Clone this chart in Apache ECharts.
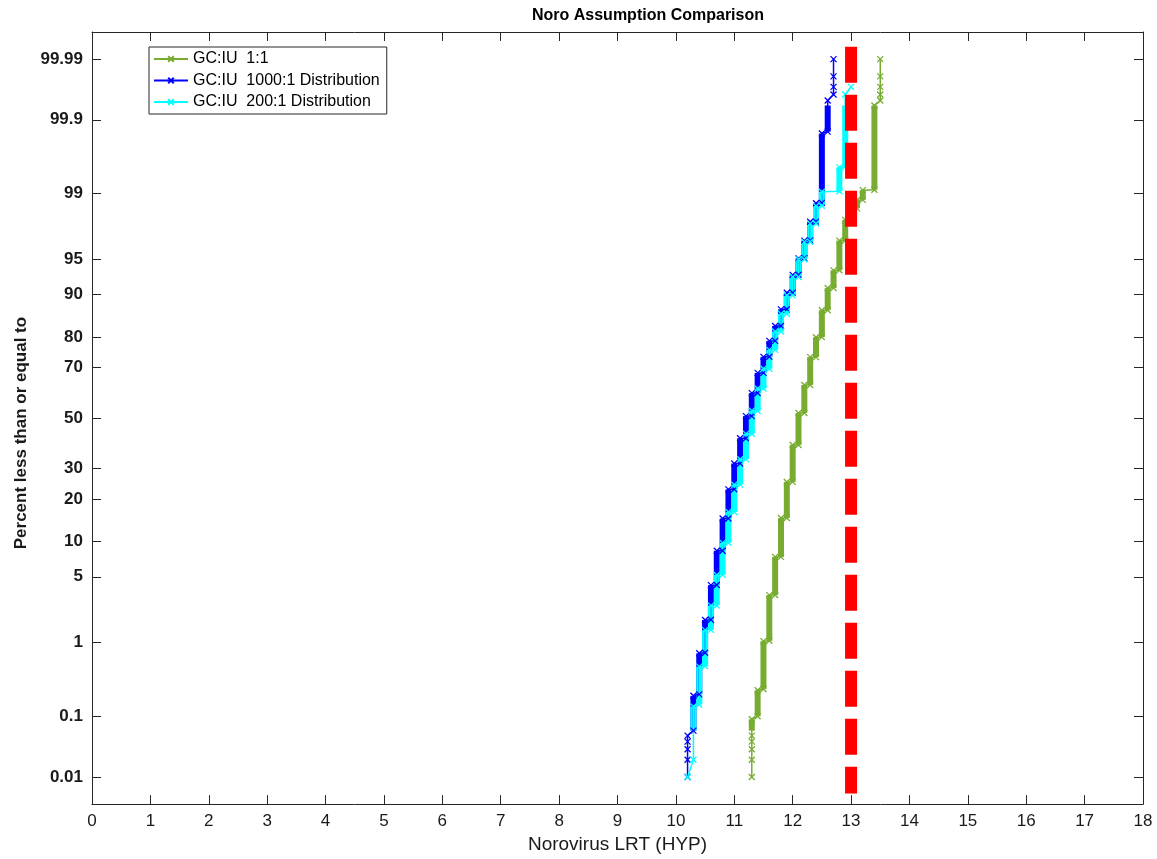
<!DOCTYPE html>
<html>
<head>
<meta charset="utf-8">
<title>Noro Assumption Comparison</title>
<script src="https://cdn.jsdelivr.net/npm/echarts@6/dist/echarts.min.js"></script>
<style>
  html, body { margin: 0; padding: 0; background: #ffffff; }
  #chart { width: 1157px; height: 859px; }
</style>
</head>
<body>
<div id="chart"></div>
<script>
// ---- data -------------------------------------------------------------
const xTickValues = [0, 1, 2, 3, 4, 5, 6, 7, 8, 9, 10, 11, 12, 13, 14, 15, 16, 17, 18];
const pctTicks = [0.01, 0.1, 1, 5, 10, 20, 30, 50, 70, 80, 90, 95, 99, 99.9, 99.99];
const pctTickLabels = ['0.01', '0.1', '1', '5', '10', '20', '30', '50', '70', '80', '90', '95', '99', '99.9', '99.99'];

const seriesNames = ['GC:IU  1:1', 'GC:IU  1000:1 Distribution', 'GC:IU  200:1 Distribution'];

// percent of the sample carried by one simulated value
const PCT_PER_SAMPLE = 0.01;

// GC:IU 1:1 — LRT level of each step and cumulative percent at its top
const greenLevels = [11.3, 11.4, 11.5, 11.6, 11.7, 11.8, 11.9, 12.0, 12.1, 12.2, 12.3, 12.4, 12.5, 12.6, 12.7, 12.8, 12.9, 13.0, 13.1, 13.2, 13.4, 13.5];
const greenTopPct = [0.09, 0.24, 1.04, 3.33, 7.5, 15.0, 25.4, 39.0, 52.1, 63.4, 73.6, 79.9, 86.8, 91.1, 93.7, 96.7, 98.0, 98.5, 98.8, 99.09, 99.94, 99.99];
const greenMarks = [[11.3, 0.02], [11.3, 0.03], [11.3, 0.04], [11.3, 0.05], [13.5, 99.96], [13.5, 99.97], [13.5, 99.98]];

// GC:IU 1000:1 distribution
const blueLevels = [10.2, 10.3, 10.4, 10.5, 10.6, 10.7, 10.8, 10.9, 11.0, 11.1, 11.2, 11.3, 11.4, 11.5, 11.6, 11.7, 11.8, 11.9, 12.0, 12.1, 12.2, 12.3, 12.4, 12.5, 12.6, 12.7];
const blueTopPct = [0.05, 0.2, 0.74, 1.82, 4.17, 8.46, 14.9, 23.0, 31.9, 41.7, 50.8, 60.2, 68.0, 73.7, 78.8, 83.0, 87.0, 90.3, 93.1, 95.1, 96.7, 97.9, 98.7, 99.84, 99.95, 99.99];
const blueMarks = [[10.2, 0.02], [10.2, 0.03], [10.2, 0.04], [12.7, 99.97], [12.7, 99.98]];

// GC:IU 200:1 distribution
const cyanLevels = [10.2, 10.3, 10.4, 10.5, 10.6, 10.7, 10.8, 10.9, 11.0, 11.1, 11.2, 11.3, 11.4, 11.5, 11.6, 11.7, 11.8, 11.9, 12.0, 12.1, 12.2, 12.3, 12.4, 12.5, 12.8, 12.9, 13.0];
const cyanTopPct = [0.01, 0.14, 0.50, 1.4, 2.6, 5.2, 9.8, 16.5, 24.5, 33.5, 43.5, 53.0, 62.0, 69.5, 76.0, 81.5, 86.0, 89.8, 92.8, 95.0, 96.6, 97.8, 98.6, 99.05, 99.53, 99.96, 99.97];
const cyanMarks = [];

// LRT limit line
const limitLRT = 13;
const limitPct = [99.994, 0.005];

const colors = ['#77AC30', '#0000FF', '#00FFFF'];

// ---- normal probability scale ---------------------------------------
// inverse standard normal CDF (Acklam), p given in percent
function probit(pct) {
  const p = pct / 100;
  const a = [-3.969683028665376e+01, 2.209460984245205e+02, -2.759285104469687e+02, 1.383577518672690e+02, -3.066479806614716e+01, 2.506628277459239e+00];
  const b = [-5.447609879822406e+01, 1.615858368580409e+02, -1.556989798598866e+02, 6.680131188771972e+01, -1.328068155288572e+01];
  const c = [-7.784894002430293e-03, -3.223964580411365e-01, -2.400758277161838e+00, -2.549732539343734e+00, 4.374664141464968e+00, 2.938163982698783e+00];
  const d = [7.784695709041462e-03, 3.224671290700398e-01, 2.445134137142996e+00, 3.754408661907416e+00];
  const pl = 0.02425, ph = 1 - pl;
  let q, r;
  if (p < pl) {
    q = Math.sqrt(-2 * Math.log(p));
    return (((((c[0] * q + c[1]) * q + c[2]) * q + c[3]) * q + c[4]) * q + c[5]) /
           ((((d[0] * q + d[1]) * q + d[2]) * q + d[3]) * q + 1);
  }
  if (p <= ph) {
    q = p - 0.5; r = q * q;
    return (((((a[0] * r + a[1]) * r + a[2]) * r + a[3]) * r + a[4]) * r + a[5]) * q /
           (((((b[0] * r + b[1]) * r + b[2]) * r + b[3]) * r + b[4]) * r + 1);
  }
  q = Math.sqrt(-2 * Math.log(1 - p));
  return -(((((c[0] * q + c[1]) * q + c[2]) * q + c[3]) * q + c[4]) * q + c[5]) /
          ((((d[0] * q + d[1]) * q + d[2]) * q + d[3]) * q + 1);
}

const tickZ = pctTicks.map(probit);

// empirical CDF steps: bottom of a step is the sample after the previous top
function stepRanges(levels, tops) {
  return levels.map((lv, i) => {
    const low = i === 0 ? PCT_PER_SAMPLE : tops[i - 1] + PCT_PER_SAMPLE;
    return [lv, Math.min(low, tops[i]), tops[i]];
  });
}
function polyline(ranges) {
  const pts = [];
  ranges.forEach(([lv, lo, hi]) => {
    pts.push([lv, probit(lo)]);
    if (hi > lo) pts.push([lv, probit(hi)]);
  });
  return pts;
}
// dense runs of markers render as a solid band; sparse tails stay as single marks
const BAND_MIN_PCT = 0.06, BAND_MAX_PCT = 99.94;
function bands(ranges) {
  const out = [];
  ranges.forEach(([lv, lo, hi]) => {
    const a = Math.max(lo, BAND_MIN_PCT), b = Math.min(hi, BAND_MAX_PCT);
    if (b > a) out.push([lv, probit(a), probit(b)]);
  });
  return out;
}

const X_MARK = 'path://M0,0L10,10M10,0L0,10';
const FONT = '"Liberation Sans", Arial, Helvetica, sans-serif';
const AXIS_COLOR = '#262626';

function curveSeries(name, color, levels, tops, marks) {
  const ranges = stepRanges(levels, tops);
  return [
    {
      name: name, type: 'line', data: polyline(ranges),
      symbol: X_MARK, symbolSize: 6, showSymbol: true, showAllSymbol: true,
      lineStyle: { color: color, width: 1.5 },
      itemStyle: { color: color, borderColor: color, borderWidth: 1.3 },
      emphasis: { disabled: true }, animation: false, clip: true
    },
    {
      name: name, type: 'custom', data: bands(ranges),
      encode: { x: 0, y: [1, 2] },
      renderItem: function (params, api) {
        const p0 = api.coord([api.value(0), api.value(1)]);
        const p1 = api.coord([api.value(0), api.value(2)]);
        return {
          type: 'line',
          shape: { x1: p0[0], y1: p0[1], x2: p1[0], y2: p1[1] },
          style: { stroke: color, lineWidth: 6 }
        };
      },
      silent: true, animation: false, clip: true
    },
    {
      name: name, type: 'scatter',
      data: marks.map(([lv, pct]) => [lv, probit(pct)]),
      symbol: X_MARK, symbolSize: 6,
      itemStyle: { color: color, borderColor: color, borderWidth: 1.3, opacity: 1 },
      emphasis: { disabled: true }, silent: true, animation: false
    }
  ];
}

const series = [].concat(
  curveSeries(seriesNames[0], colors[0], greenLevels, greenTopPct, greenMarks),
  curveSeries(seriesNames[1], colors[1], blueLevels, blueTopPct, blueMarks),
  curveSeries(seriesNames[2], colors[2], cyanLevels, cyanTopPct, cyanMarks),
  [{
    name: 'LRT limit', type: 'line',
    data: limitPct.map(p => [limitLRT, probit(p)]),
    symbol: 'none',
    lineStyle: { color: '#FF0000', width: 12, type: [36, 12], cap: 'butt' },
    silent: true, animation: false, z: 5
  }]
);

const yLabelFor = v => {
  let best = 0;
  tickZ.forEach((z, i) => { if (Math.abs(z - v) < Math.abs(tickZ[best] - v)) best = i; });
  return pctTickLabels[best];
};

const chart = echarts.init(document.getElementById('chart'), null, { renderer: 'canvas' });
chart.setOption({
  backgroundColor: '#ffffff',
  animation: false,
  textStyle: { fontFamily: FONT },
  graphic: [{
    type: 'text', x: 648, y: 8,
    style: {
      text: 'Noro Assumption Comparison', textAlign: 'center',
      font: 'bold 16px ' + FONT, fill: '#000000'
    }
  }],
  legend: {
    data: seriesNames, orient: 'vertical', left: 149, top: 47,
    padding: [4, 7, 4, 4], itemWidth: 34, itemHeight: 7, itemGap: 5.5,
    borderColor: AXIS_COLOR, borderWidth: 1, borderRadius: 0, backgroundColor: '#ffffff',
    selectedMode: false,
    textStyle: { fontSize: 16, color: '#000000', fontFamily: FONT }
  },
  grid: { left: 92, right: 14, top: 32, bottom: 54, containLabel: false },
  xAxis: [{
    type: 'value', min: 0, max: 18, interval: 1, position: 'bottom',
    name: 'Norovirus LRT (HYP)', nameLocation: 'middle', nameGap: 30,
    nameTextStyle: { fontSize: 19, color: '#1a1a1a', fontFamily: FONT },
    axisLine: { show: true, onZero: false, lineStyle: { color: AXIS_COLOR, width: 1 } },
    axisTick: { show: true, inside: true, length: 9, lineStyle: { color: AXIS_COLOR } },
    axisLabel: { fontSize: 17, color: '#1a1a1a', margin: 9, fontFamily: FONT },
    splitLine: { show: false }
  }, {
    type: 'value', min: 0, max: 18, interval: 1, position: 'top',
    axisLine: { show: true, onZero: false, lineStyle: { color: AXIS_COLOR, width: 1 } },
    axisTick: { show: true, inside: true, length: 9, lineStyle: { color: AXIS_COLOR } },
    axisLabel: { show: false }, splitLine: { show: false }
  }],
  yAxis: [{
    type: 'value', min: -4, max: 4, position: 'left',
    name: 'Percent less than or equal to', nameLocation: 'middle', nameGap: 58, nameRotate: 90,
    nameTextStyle: { fontSize: 17, fontWeight: 'bold', color: '#1a1a1a', fontFamily: FONT, padding: [0, 30, 0, 0] },
    axisLine: { show: true, onZero: false, lineStyle: { color: AXIS_COLOR, width: 1 } },
    axisTick: { show: true, inside: true, length: 9, customValues: tickZ, lineStyle: { color: AXIS_COLOR } },
    axisLabel: { fontSize: 17, fontWeight: 'bold', color: '#1a1a1a', margin: 9, fontFamily: FONT,
                 customValues: tickZ, formatter: yLabelFor },
    splitLine: { show: false }
  }, {
    type: 'value', min: -4, max: 4, position: 'right',
    axisLine: { show: true, onZero: false, lineStyle: { color: AXIS_COLOR, width: 1 } },
    axisTick: { show: true, inside: true, length: 9, customValues: tickZ, lineStyle: { color: AXIS_COLOR } },
    axisLabel: { show: false }, splitLine: { show: false }
  }],
  series: series
});
</script>
</body>
</html>
